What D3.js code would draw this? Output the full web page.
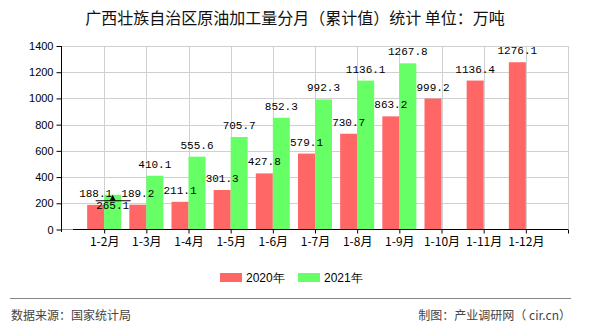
<!DOCTYPE html>
<html><head><meta charset="utf-8">
<script src="https://cdn.jsdelivr.net/npm/d3@7"></script>
<style>body{margin:0;background:#fff}svg{display:block}</style>
</head><body>
<script>
const categories = ["1-2月","1-3月","1-4月","1-5月","1-6月","1-7月","1-8月","1-9月","1-10月","1-11月","1-12月"];
const values2020 = [188.1,189.2,211.1,301.3,427.8,579.1,730.7,863.2,999.2,1136.4,1276.1];
const values2021 = [265.1,410.1,555.6,705.7,852.3,992.3,1136.1,1267.8,null,null,null];
const seriesNames = ["2020年","2021年"];
const yTicks = [0,200,400,600,800,1000,1200,1400];
const title = "广西壮族自治区原油加工量分月（累计值）统计 单位：万吨";
const sourceText = "数据来源：国家统计局";
const makerText = "制图：产业调研网（ cir.cn）";

const W=590,H=330;
const colors=["#ff6666","#66ff66"];
const svg=d3.select("body").append("svg").attr("width",W).attr("height",H);

const x=d3.scaleLinear().domain([0,12]).range([62,568]);
const y=d3.scaleLinear().domain([0,1400]).range([229.5,46]);
const bw=17;

// title
svg.append("text").attr("x",295).attr("y",24).attr("text-anchor","middle")
  .attr("font-family","'Noto Sans CJK SC',sans-serif").attr("font-size",16).attr("fill","#111").text(title);

// grid
const g=svg.append("g");
g.selectAll(".hg").data(yTicks.slice(1)).join("line")
  .attr("x1",62).attr("x2",568).attr("y1",d=>Math.round(y(d))+0.5).attr("y2",d=>Math.round(y(d))+0.5)
  .attr("stroke","#d0d0d0");
g.selectAll(".vg").data(categories.map((c,i)=>i+1).concat([12])).join("line")
  .attr("x1",d=>Math.round(x(d))+0.5).attr("x2",d=>Math.round(x(d))+0.5).attr("y1",46).attr("y2",229)
  .attr("stroke","#d0d0d0");

// bars
categories.forEach((c,i)=>{
  const cx=x(i+1);
  [values2020[i],values2021[i]].forEach((v,s)=>{
    if(v==null) return;
    svg.append("rect").attr("x",s===0?cx-bw:cx).attr("width",bw)
      .attr("y",y(v)).attr("height",y(0)-y(v)).attr("fill",colors[s]);
  });
});

// axes
const yAxis=d3.axisLeft(y).tickValues(yTicks).tickSize(5).tickPadding(3).tickFormat(d3.format("d"));
const ya=svg.append("g").attr("transform","translate(61.5,0)").call(yAxis);
ya.select(".domain").attr("d","M0,46V232");
ya.selectAll("text").attr("font-family","'Liberation Sans',Arial,sans-serif").attr("font-size",11).attr("fill","#000");

const xa=svg.append("g").attr("transform","translate(0,229.5)")
  .call(d3.axisBottom(x).tickValues(categories.map((c,i)=>i+1).concat([12])).tickSize(4).tickPadding(4).tickFormat(d=>categories[d-1]||""));
xa.select(".domain").attr("d","M62,0H568");
xa.selectAll("text").attr("font-family","'Noto Sans CJK SC',sans-serif").attr("font-size",12).attr("fill","#000");
svg.append("line").attr("x1",62).attr("x2",73).attr("y1",229.5).attr("y2",229.5).attr("stroke","#999");

// value labels
const lf="'Liberation Mono','DejaVu Sans Mono',monospace";
categories.forEach((c,i)=>{
  const cx=x(i+1);
  const v1=values2020[i];
  svg.append("text").attr("x",cx-bw/2).attr("y",y(v1)-8).attr("text-anchor","middle")
    .attr("font-family",lf).attr("font-size",11).text(v1.toFixed(1));
  const v2=values2021[i];
  if(v2!=null){
    const ly = i===0 ? y(v2)+14 : y(v2)-8;
    svg.append("text").attr("x",cx+bw/2).attr("y",ly).attr("text-anchor","middle")
      .attr("font-family",lf).attr("font-size",11).text(v2.toFixed(1));
  }
});
// marker artifact near first bar
{
  const cx=x(1)+bw/2, my=y(values2021[0])+6;
  svg.append("line").attr("x1",cx-17).attr("x2",cx+18).attr("y1",my).attr("y2",my).attr("stroke","#000");
  svg.append("path").attr("d",`M${cx-3},${my}L${cx},${my-6}L${cx+3},${my}Z`).attr("fill","#000");
}

// legend
const lg=svg.append("g");
const lx=[220,298];
seriesNames.forEach((n,s)=>{
  lg.append("rect").attr("x",lx[s]).attr("y",273).attr("width",22).attr("height",9).attr("fill",colors[s]);
  lg.append("text").attr("x",lx[s]+26).attr("y",282).attr("font-family","'Liberation Sans',Arial,sans-serif")
    .attr("font-size",12).text(n);
});

// footer
svg.append("line").attr("x1",10).attr("x2",571).attr("y1",298.5).attr("y2",298.5).attr("stroke","#888").attr("stroke-width",1);
svg.append("text").attr("x",11).attr("y",320).attr("font-family","'Noto Sans CJK SC',sans-serif")
  .attr("font-size",12).attr("fill","#444").text(sourceText);
svg.append("text").attr("x",571).attr("y",320).attr("text-anchor","end").attr("font-family","'Noto Sans CJK SC',sans-serif")
  .attr("font-size",12).attr("fill","#444").text(makerText);
</script>
</body></html>
